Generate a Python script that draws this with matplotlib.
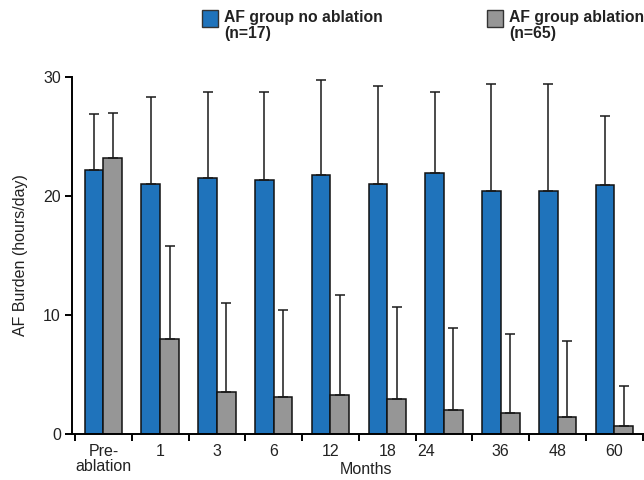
"""
AF burden over follow-up, ablation vs no ablation groups.
Bars are group means, error bars show +1 SD.
"""

import numpy as np
from matplotlib import pyplot as plt
from matplotlib.patches import Rectangle

plt.rcParams['font.family'] = ['Liberation Sans', 'DejaVu Sans']

# Follow-up time points (months)
labels = ['Pre-\nablation', '1', '3', '6', '12', '18', '24', '36', '48', '60']

# AF group no ablation (n=17): mean and upper SD
no_abl_mean = [22.2, 21.0, 21.5, 21.3, 21.8, 21.0, 21.9, 20.4, 20.4, 20.9]
no_abl_sd = [4.7, 7.3, 7.2, 7.4, 7.9, 8.2, 6.8, 9.0, 9.0, 5.8]

# AF group ablation (n=65): mean and upper SD
abl_mean = [23.2, 8.0, 3.5, 3.1, 3.25, 2.9, 2.0, 1.8, 1.4, 0.65]
abl_sd = [3.8, 7.8, 7.5, 7.3, 8.45, 7.8, 6.9, 6.6, 6.4, 3.35]

BLUE = '#1f73bb'
GREY = '#969696'
TXT = '#222222'

fig = plt.figure(figsize=(6.44, 4.8), dpi=100)
ax = fig.add_axes([0.1118, 0.0958, 0.888, 0.744])

x = np.arange(len(labels))
w = 0.33
err_kw = dict(capsize=3.3, elinewidth=1.1, capthick=1.1, ecolor='#1a1a1a')

ax.bar(x - w / 2, no_abl_mean, w, color=BLUE, edgecolor='#111111', linewidth=1.1,
       yerr=[np.zeros(len(x)), no_abl_sd], error_kw=err_kw, zorder=2)
ax.bar(x + w / 2, abl_mean, w, color=GREY, edgecolor='#111111', linewidth=1.1,
       yerr=[np.zeros(len(x)), abl_sd], error_kw=err_kw, zorder=2)

ax.set_xlim(-0.553, 9.52)
ax.set_ylim(0, 30)

for s in ['top', 'right']:
    ax.spines[s].set_visible(False)
for s in ['left', 'bottom']:
    ax.spines[s].set_linewidth(1.4)

ax.set_yticks([0, 10, 20, 30])
ax.tick_params(axis='y', length=5, width=1.4, labelsize=11.5, pad=3,
               labelcolor=TXT)

# tick marks between groups, labels under each group
ax.set_xticks(np.arange(-0.5, 10, 1.0))
ax.set_xticklabels([])
ax.tick_params(axis='x', which='major', length=5, width=1.4)
lab_pos = x.astype(float)
lab_pos[6] -= 0.31  # "24" sits a bit left of its group
ax.set_xticks(lab_pos, minor=True)
ax.set_xticklabels(labels, minor=True, fontsize=11.5, linespacing=1.05)
ax.tick_params(axis='x', which='minor', length=0, pad=7, labelcolor=TXT)

ax.set_ylabel('AF Burden (hours/day)', fontsize=11.5, labelpad=11, color=TXT)
fig.text(366 / 644, 1 - 470 / 480, 'Months', ha='center', va='center',
         fontsize=11.5, color=TXT)

# legend drawn by hand at the top
for bx, col, txt in [(202, BLUE, 'AF group no ablation\n(n=17)'),
                     (487, GREY, 'AF group ablation\n(n=65)')]:
    fig.patches.append(Rectangle((bx / 644, 1 - 27 / 480), 16 / 644, 17 / 480,
                                 transform=fig.transFigure, facecolor=col,
                                 edgecolor='#333333', linewidth=1.0))
    fig.text((bx + 22) / 644, 1 - 10 / 480, txt, ha='left', va='top',
             fontsize=11.3, fontweight='bold', linespacing=1.12, color=TXT)

plt.savefig('out.png')
